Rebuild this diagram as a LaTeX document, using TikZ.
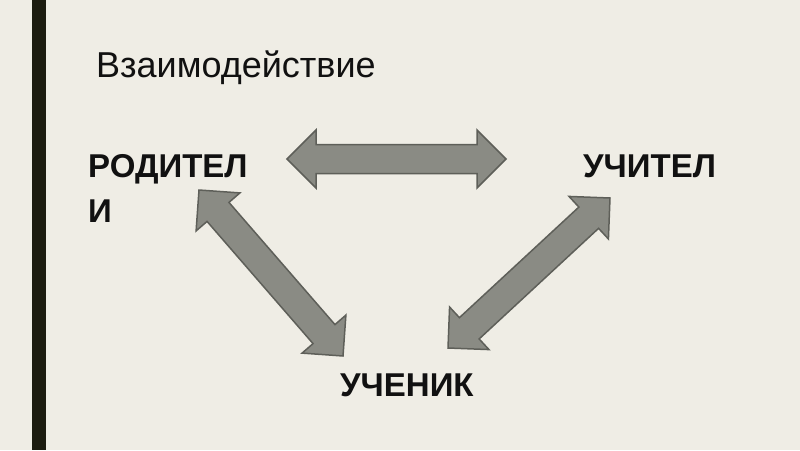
\documentclass[tikz,border=0pt]{standalone}
\usepackage{fontspec}
\setmainfont{Liberation Sans}
\usetikzlibrary{calc}
\definecolor{bgc}{HTML}{EFEDE5}
\definecolor{barc}{HTML}{1C1C10}
\definecolor{arrfill}{HTML}{8A8B84}
\definecolor{arrline}{HTML}{5E5F59}
\definecolor{txtc}{HTML}{111111}
\tikzset{
  title/.style={font=\fontsize{36}{42}\selectfont, text=txtc, inner sep=0pt, anchor=base west},
  role/.style={font=\fontsize{33}{45}\selectfont\bfseries, text=txtc, inner sep=0pt, anchor=base west, align=left},
  blockarrow/.style={fill=arrfill, draw=arrline, line width=1.5pt, line join=miter},
}
\newcommand\dblblockarrow[2]{%
  \coordinate (h1) at ($(#1)!29pt!(#2)$);
  \coordinate (h2) at ($(#2)!29pt!(#1)$);
  \draw[blockarrow] (#1)
    -- ($(h1)!29pt!90:(#2)$) -- ($(h1)!14.5pt!90:(#2)$)
    -- ($(h2)!14.5pt!-90:(#1)$) -- ($(h2)!29pt!-90:(#1)$)
    -- (#2)
    -- ($(h2)!29pt!90:(#1)$) -- ($(h2)!14.5pt!90:(#1)$)
    -- ($(h1)!14.5pt!-90:(#2)$) -- ($(h1)!29pt!-90:(#2)$)
    -- cycle;}
\begin{document}
\begin{tikzpicture}[x=1pt,y=-1pt]
\fill[bgc] (0,0) rectangle (800,450);
\useasboundingbox (0,0) rectangle (800,450);
\fill[barc] (32,0) rectangle (46,450);
\node[title] (ttl) at (96,77) {Взаимодействие};
\node[role] (par) at (88,222) {РОДИТЕЛ\\И};
\node[role] (tea) at (583,222) {УЧИТЕЛ\\Ь};
\node[role] (stu) at (340,396) {УЧЕНИК};
\coordinate (hA) at (287,159);
\coordinate (hB) at (506,159);
\coordinate (lA) at (199,190);
\coordinate (lB) at (343,356);
\coordinate (rA) at (448,348);
\coordinate (rB) at (610,198);
\dblblockarrow{hA}{hB}
\dblblockarrow{lA}{lB}
\dblblockarrow{rA}{rB}
\end{tikzpicture}
\end{document}
